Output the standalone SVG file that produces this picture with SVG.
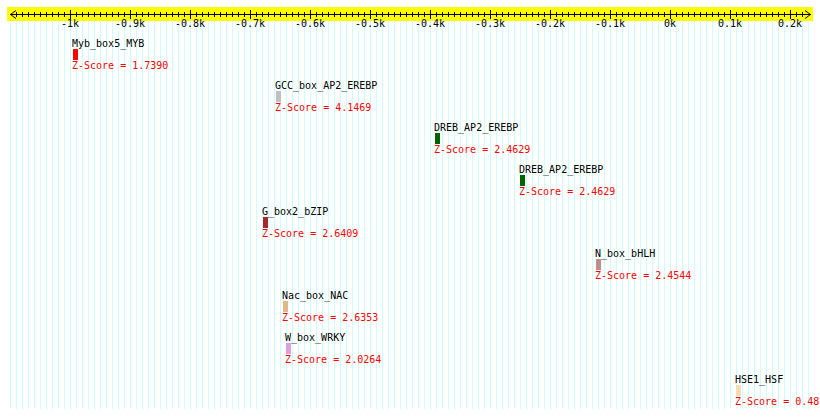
<svg xmlns="http://www.w3.org/2000/svg" width="820" height="419" viewBox="0 0 820 419">
<style>
text{font-family:"DejaVu Sans Mono","Liberation Mono",monospace;font-size:10px}
.nm{fill:#000}
.zs{fill:#ff0000}
.tl{fill:#000;text-anchor:middle}
.ax{stroke:#000;stroke-width:1;fill:none}
</style>
<defs>
<pattern id="grid" x="10" y="0" width="6" height="10" patternUnits="userSpaceOnUse">
<rect x="0" y="0" width="1" height="10" fill="#ccffff"/>
</pattern>
<pattern id="minor" x="16" y="0" width="6" height="10" patternUnits="userSpaceOnUse">
<rect x="0" y="0" width="1" height="10" fill="#000"/>
</pattern>
</defs>
<rect width="820" height="419" fill="#fff"/>
<rect x="10" y="21" width="799" height="388" fill="url(#grid)"/>
<g id="axis">
<rect x="7" y="7" width="806" height="14" fill="#ffff00"/>
<rect x="16" y="12" width="787" height="5" fill="url(#minor)"/>
<path class="ax" d="M10 14.5H811M16 10.5L10.5 14.5L16 18.5M805 10.5L810.5 14.5L805 18.5"/>
<path class="ax" d="M70.5 10V19M130.5 10V19M190.5 10V19M250.5 10V19M310.5 10V19M370.5 10V19M430.5 10V19M490.5 10V19M550.5 10V19M610.5 10V19M670.5 10V19M730.5 10V19M790.5 10V19"/>
<text class="tl" x="70" y="27">-1k</text>
<text class="tl" x="130" y="27">-0.9k</text>
<text class="tl" x="190" y="27">-0.8k</text>
<text class="tl" x="250" y="27">-0.7k</text>
<text class="tl" x="310" y="27">-0.6k</text>
<text class="tl" x="370" y="27">-0.5k</text>
<text class="tl" x="430" y="27">-0.4k</text>
<text class="tl" x="490" y="27">-0.3k</text>
<text class="tl" x="550" y="27">-0.2k</text>
<text class="tl" x="610" y="27">-0.1k</text>
<text class="tl" x="670" y="27">0k</text>
<text class="tl" x="730" y="27">0.1k</text>
<text class="tl" x="790" y="27">0.2k</text>
</g>
<g id="connectors"></g>
<g id="myb_box5_myb">
<text class="nm" x="72" y="47">Myb_box5_MYB</text>
<rect x="73" y="49" width="5" height="11" fill="#ff0000"/>
<text class="zs" x="72" y="69">Z-Score = 1.7390</text>
</g>
<g id="gcc_box_ap2_erebp">
<text class="nm" x="275" y="89">GCC_box_AP2_EREBP</text>
<rect x="276" y="91" width="5" height="11" fill="#c0c0c0"/>
<text class="zs" x="275" y="111">Z-Score = 4.1469</text>
</g>
<g id="dreb_ap2_erebp_1">
<text class="nm" x="434" y="131">DREB_AP2_EREBP</text>
<rect x="435" y="133" width="5" height="11" fill="#006400"/>
<text class="zs" x="434" y="153">Z-Score = 2.4629</text>
</g>
<g id="dreb_ap2_erebp_2">
<text class="nm" x="519" y="173">DREB_AP2_EREBP</text>
<rect x="520" y="175" width="5" height="11" fill="#006400"/>
<text class="zs" x="519" y="195">Z-Score = 2.4629</text>
</g>
<g id="g_box2_bzip">
<text class="nm" x="262" y="215">G_box2_bZIP</text>
<rect x="263" y="217" width="5" height="11" fill="#a52a2a"/>
<text class="zs" x="262" y="237">Z-Score = 2.6409</text>
</g>
<g id="n_box_bhlh">
<text class="nm" x="595" y="257">N_box_bHLH</text>
<rect x="596" y="259" width="5" height="11" fill="#bc8f8f"/>
<text class="zs" x="595" y="279">Z-Score = 2.4544</text>
</g>
<g id="nac_box_nac">
<text class="nm" x="282" y="299">Nac_box_NAC</text>
<rect x="283" y="301" width="5" height="11" fill="#deb887"/>
<text class="zs" x="282" y="321">Z-Score = 2.6353</text>
</g>
<g id="w_box_wrky">
<text class="nm" x="285" y="341">W_box_WRKY</text>
<rect x="286" y="343" width="5" height="11" fill="#dda0dd"/>
<text class="zs" x="285" y="363">Z-Score = 2.0264</text>
</g>
<g id="hse1_hsf">
<text class="nm" x="735" y="383">HSE1_HSF</text>
<rect x="736" y="385" width="5" height="11" fill="#f5deb3"/>
<text class="zs" x="735" y="405">Z-Score = 0.48</text>
</g>
</svg>
